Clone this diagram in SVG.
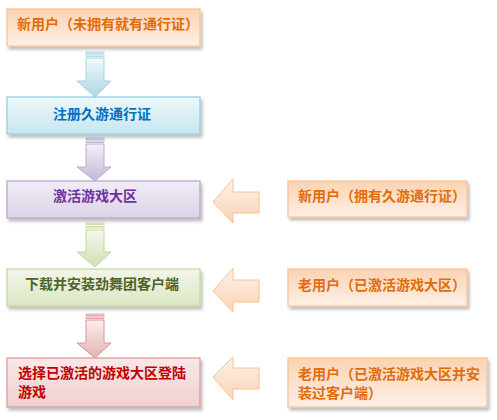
<svg xmlns="http://www.w3.org/2000/svg" width="497" height="420" viewBox="0 0 497 420">
<defs>
<linearGradient id="gO" x1="0" y1="0" x2="0" y2="1"><stop offset="0" stop-color="#fbd3b2"/><stop offset="1" stop-color="#fef0e6"/></linearGradient>
<linearGradient id="gB" x1="0" y1="0" x2="0" y2="1"><stop offset="0" stop-color="#eef8fa"/><stop offset="1" stop-color="#c6e6ef"/></linearGradient>
<linearGradient id="gP" x1="0" y1="0" x2="0" y2="1"><stop offset="0" stop-color="#f1edf6"/><stop offset="1" stop-color="#dcd3e7"/></linearGradient>
<linearGradient id="gG" x1="0" y1="0" x2="0" y2="1"><stop offset="0" stop-color="#f2f6e9"/><stop offset="1" stop-color="#dae7c3"/></linearGradient>
<linearGradient id="gR" x1="0" y1="0" x2="0" y2="1"><stop offset="0" stop-color="#f9e8e8"/><stop offset="1" stop-color="#efcfcf"/></linearGradient>
<linearGradient id="aB" x1="0" y1="0" x2="0" y2="1"><stop offset="0" stop-color="#f2fafc"/><stop offset="1" stop-color="#aad8e4"/></linearGradient>
<linearGradient id="aP" x1="0" y1="0" x2="0" y2="1"><stop offset="0" stop-color="#f4f1f8"/><stop offset="1" stop-color="#c4b6d6"/></linearGradient>
<linearGradient id="aG" x1="0" y1="0" x2="0" y2="1"><stop offset="0" stop-color="#f5f9ee"/><stop offset="1" stop-color="#d0e0b3"/></linearGradient>
<linearGradient id="aR" x1="0" y1="0" x2="0" y2="1"><stop offset="0" stop-color="#fbeeee"/><stop offset="1" stop-color="#e4b2b1"/></linearGradient>
<linearGradient id="aO" x1="0" y1="0" x2="0" y2="1"><stop offset="0" stop-color="#fef2ea"/><stop offset="1" stop-color="#fbd3b2"/></linearGradient>
<filter id="sh" x="-5%" y="-10%" width="115%" height="140%"><feDropShadow dx="2" dy="3" stdDeviation="1.5" flood-color="#000" flood-opacity="0.25"/></filter>
</defs>
<style>
text{font-family:"Noto Sans CJK SC","Noto Sans CJK JP",sans-serif;font-size:14px;font-weight:bold}
.box{stroke-width:1.2;filter:url(#sh)}
.arr{stroke-width:1}
.strip{stroke-width:0.8}
</style>
<g id="connectors">
<g id="down1">
<rect class="strip" x="86" y="52" width="18" height="1.5" fill="#eef8fa" stroke="#a5d5e2"/>
<rect class="strip" x="86" y="55" width="18" height="1.5" fill="#eef8fa" stroke="#a5d5e2"/>
<path class="arr" d="M86,58 H104 V81 H111 L95,97 L77,81 H86 Z" fill="url(#aB)" stroke="#a5d5e2"/>
</g>
<g id="down2">
<rect class="strip" x="86" y="138" width="18" height="1.5" fill="#f1edf6" stroke="#b9abcd"/>
<rect class="strip" x="86" y="141" width="18" height="1.5" fill="#f1edf6" stroke="#b9abcd"/>
<path class="arr" d="M86,144 H104 V167 H111 L95,181 L77,167 H86 Z" fill="url(#aP)" stroke="#b9abcd"/>
</g>
<g id="down3">
<rect class="strip" x="86" y="223" width="18" height="1.5" fill="#f2f6e9" stroke="#c3d69b"/>
<rect class="strip" x="86" y="226.5" width="18" height="1.5" fill="#f2f6e9" stroke="#c3d69b"/>
<path class="arr" d="M86,230 H104 V252 H111 L95,267 L77,252 H86 Z" fill="url(#aG)" stroke="#c3d69b"/>
</g>
<g id="down4">
<rect class="strip" x="86" y="314" width="18" height="1.5" fill="#f9e8e8" stroke="#d99694"/>
<rect class="strip" x="86" y="317" width="18" height="1.5" fill="#f9e8e8" stroke="#d99694"/>
<path class="arr" d="M86,320 H104 V343 H111 L95,358 L77,343 H86 Z" fill="url(#aR)" stroke="#d99694"/>
</g>
<path id="left1" class="arr" d="M213,202 L233,179 V192 H259 V213 H233 V223 Z" fill="url(#aO)" stroke="#fac090"/>
<path id="left2" class="arr" d="M213,291 L233,268 V280 H259 V302 H233 V312 Z" fill="url(#aO)" stroke="#fac090"/>
<path id="left3" class="arr" d="M213,377 L233,357 V368 H259 V389 H233 V400 Z" fill="url(#aO)" stroke="#fac090"/>
</g>
<g id="n1">
<rect class="box" x="7" y="9" width="193" height="37" fill="url(#gO)" stroke="#fac090"/>
<text x="17" y="29" fill="#e36c09">新用户（未拥有就有通行证）</text>
</g>
<g id="n2">
<rect class="box" x="7" y="97" width="193" height="37" fill="url(#gB)" stroke="#92cddc"/>
<text x="53" y="119" fill="#0070c0">注册久游通行证</text>
</g>
<g id="n3">
<rect class="box" x="7" y="181" width="193" height="37" fill="url(#gP)" stroke="#b2a1c7"/>
<text x="53" y="201" fill="#7030a0">激活游戏大区</text>
</g>
<g id="n4">
<rect class="box" x="7" y="269" width="193" height="37" fill="url(#gG)" stroke="#c3d69b"/>
<text x="25" y="289" fill="#4f6228">下载并安装劲舞团客户端</text>
</g>
<g id="n5">
<rect class="box" x="7" y="358" width="193" height="49" fill="url(#gR)" stroke="#d99694"/>
<text x="18" y="378" fill="#c00000">选择已激活的游戏大区登陆</text>
<text x="18" y="397" fill="#c00000">游戏</text>
</g>
<g id="nA">
<rect class="box" x="288" y="181" width="179" height="36" fill="url(#gO)" stroke="#fac090"/>
<text x="298" y="201" fill="#e36c09">新用户（拥有久游通行证）</text>
</g>
<g id="nB">
<rect class="box" x="288" y="269" width="179" height="37" fill="url(#gO)" stroke="#fac090"/>
<text x="298" y="290" fill="#e36c09">老用户（已激活游戏大区）</text>
</g>
<g id="nC">
<rect class="box" x="288" y="358" width="199" height="49" fill="url(#gO)" stroke="#fac090"/>
<text x="298" y="379" fill="#e36c09">老用户（已激活游戏大区并安</text>
<text x="298" y="398" fill="#e36c09">装过客户端）</text>
</g>
</svg>
